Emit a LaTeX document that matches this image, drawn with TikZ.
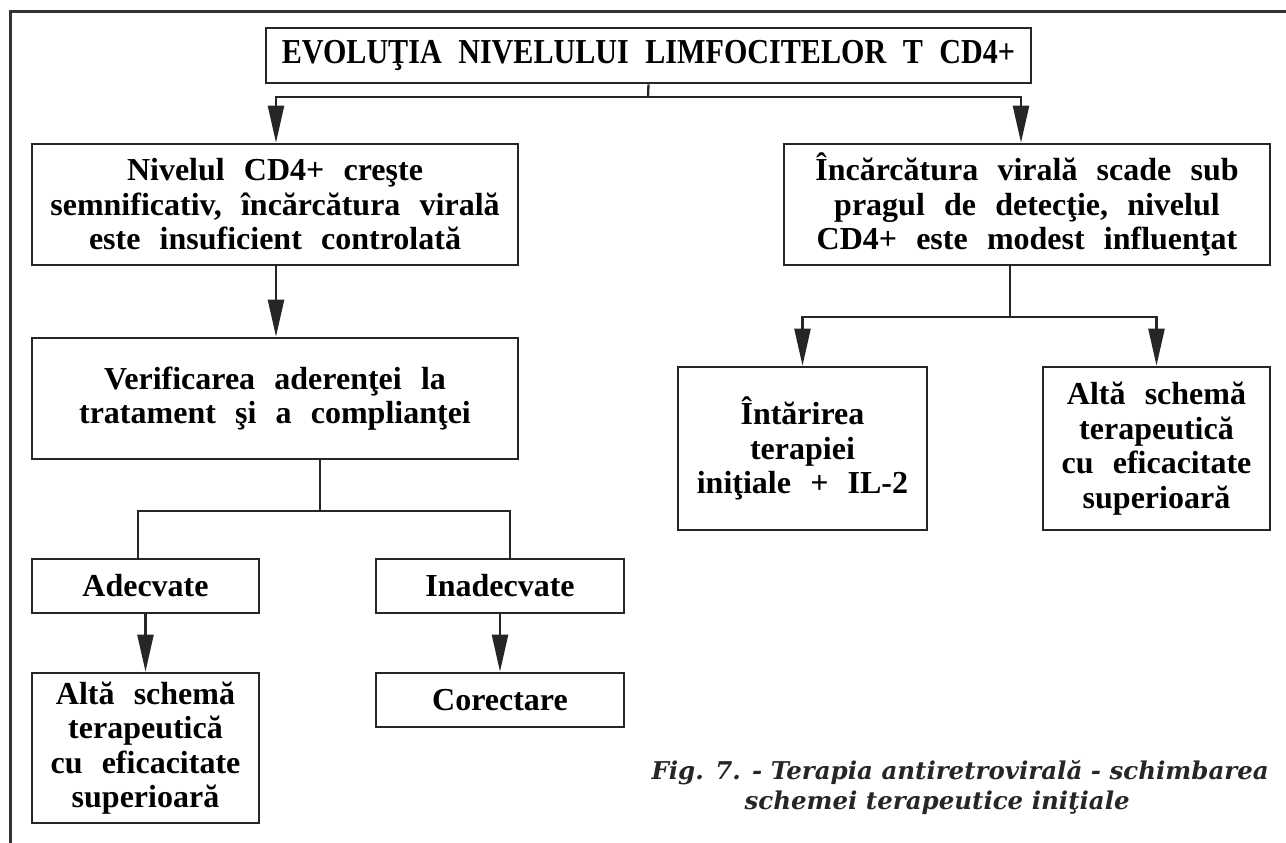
\documentclass[tikz,border=0pt]{standalone}
\usepackage{fontspec}
\setmainfont[WordSpace=2.4]{Liberation Serif}
\newfontfamily\titlefont[FakeStretch=0.86,WordSpace=2.2]{Liberation Serif}
\newfontfamily\capfont{DejaVu Serif}
\usetikzlibrary{arrows.meta}

\tikzset{
  box/.style={draw=black!85, line width=2.6pt, rectangle, inner sep=0pt,
    align=center, font=\bfseries\fontsize{32}{34.5}\selectfont},
  link/.style={draw=black!85, line width=2.3pt},
  arr/.style={link, -{Triangle[length=37pt,width=16pt]}},
  frame/.style={draw=black!80, line width=3pt},
  caption/.style={anchor=west, text=black!85,
    font=\capfont\bfseries\itshape\fontsize{24.5}{30}\selectfont},
}

\begin{document}
\begin{tikzpicture}[x=1pt,y=-1pt]
\useasboundingbox (0,0) rectangle (1286,843);

% outer frame: top rule and left rule
\coordinate (ftl) at (10,12);
\coordinate (ftr) at (1286,12);
\coordinate (fbl) at (10,843);
\draw[frame] (ftr) -- (ftl) -- (fbl);

% title
\node[box, minimum width=765, minimum height=55] (title) at (648.5,55.5)
  {\titlefont\bfseries\fontsize{35}{40}\selectfont EVOLUŢIA NIVELULUI LIMFOCITELOR T CD4+};

% left branch
\node[box, minimum width=486, minimum height=121] (l1) at (275,204.5)
  {Nivelul CD4+ creşte\\semnificativ, încărcătura virală\\este insuficient controlată};
\node[box, minimum width=486, minimum height=121] (l2) at (275,398.5)
  {Verificarea aderenţei la\\tratament şi a complianţei};
\node[box, minimum width=227, minimum height=54] (adec) at (145.5,586) {Adecvate};
\node[box, minimum width=248, minimum height=54] (inadec) at (500,586) {Inadecvate};
\node[box, minimum width=227, minimum height=150] (altal) at (145.5,748)
  {Altă schemă\\terapeutică\\cu eficacitate\\superioară};
\node[box, minimum width=248, minimum height=54] (corect) at (500,700) {Corectare};

% right branch
\node[box, minimum width=486, minimum height=121] (r1) at (1027,204.5)
  {Încărcătura virală scade sub\\pragul de detecţie, nivelul\\CD4+ este modest influenţat};
\node[box, minimum width=249, minimum height=163] (intar) at (802.5,448.5)
  {Întărirea\\terapiei\\iniţiale + IL-2};
\node[box, minimum width=227, minimum height=163] (altar) at (1156.5,448.5)
  {Altă schemă\\terapeutică\\cu eficacitate\\superioară};

% caption
\node[caption] (cap1) at (648,773) {Fig. 7. - Terapia antiretrovirală - schimbarea};
\node[caption] (cap2) at (741,803) {schemei terapeutice iniţiale};

% connectors
\coordinate (j0) at (648,97);
\draw[link] (title.south) -- (j0);
\draw[arr] (j0) -| ([xshift=1pt]l1.north);
\draw[arr] (j0) -| ([xshift=-6pt]r1.north);

\draw[arr] ([xshift=1pt]l1.south) -- ([xshift=1pt]l2.north);

\coordinate (j1) at (320,511);
\draw[link] (l2.south -| j1) -- (j1);
\draw[link] (j1) -| ([xshift=-7.5pt]adec.north);
\draw[link] (j1) -| ([xshift=10pt]inadec.north);
\draw[arr] (adec) -- (altal);
\draw[arr] (inadec) -- (corect);

\coordinate (j2) at (1010,317);
\draw[link] (r1.south -| j2) -- (j2);
\draw[arr] (j2) -| (intar.north);
\draw[arr] (j2) -| (altar.north);
\end{tikzpicture}
\end{document}
